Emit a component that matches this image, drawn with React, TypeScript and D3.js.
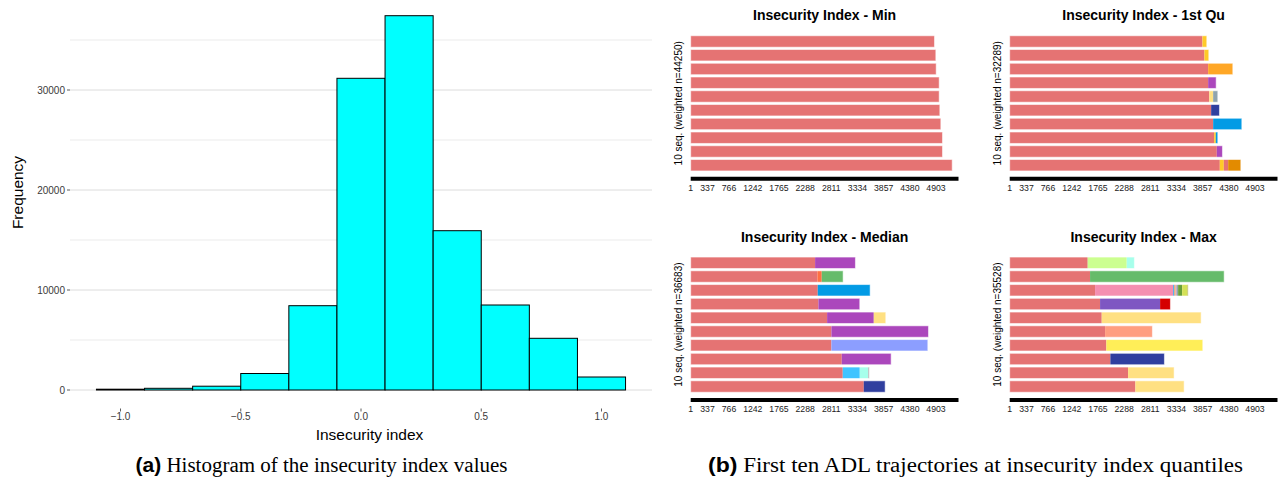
import React from 'react';
import * as d3 from 'd3';

// ---- Histogram data ----
const binStarts = [-1.1, -0.9, -0.7, -0.5, -0.3, -0.1, 0.1, 0.3, 0.5, 0.7, 0.9];
const binWidth = 0.2;
const binCounts = [80, 170, 380, 1650, 8430, 31170, 37430, 15930, 8500, 5170, 1300];
const histXTicks = [-1, -0.5, 0, 0.5, 1];
const histYTicks = [0, 10000, 20000, 30000];
const histYMinor = [5000, 15000, 25000, 35000];

// ---- Sequence index plots ----
const seqTicks = [1, 337, 766, 1242, 1765, 2288, 2811, 3334, 3857, 4380, 4903];
const seqDomain = [1, 5353];

const stateColors: Record<string, string> = {
  A: '#E57373',
  B: '#FFCA28',
  C: '#FFA726',
  D: '#AB47BC',
  E: '#FFE082',
  F: '#90A4AE',
  G: '#303F9F',
  H: '#039BE5',
  I: '#E38B00',
  J: '#FF7043',
  K: '#66BB6A',
  L: '#8C9EFF',
  M: '#40C4FF',
  N: '#A7FFEB',
  O: '#BDBDBD',
  P: '#CCFF90',
  Q: '#F48FB1',
  R: '#7E57C2',
  S: '#D50000',
  T: '#FF9E80',
  U: '#FFEE58',
  V: '#689F38',
  W: '#D4E157',
  X: '#42A5F5',
  Y: '#9E9D24',
};

type Seg = [string, number];

// each sequence: consecutive spells as [state, end position]
const seqMin: Seg[][] = [
  [['A', 4873]],
  [['A', 4900]],
  [['A', 4907]],
  [['A', 4967]],
  [['A', 4967]],
  [['A', 4980]],
  [['A', 5000]],
  [['A', 5033]],
  [['A', 5033]],
  [['A', 5227]],
];

const seqQ1: Seg[][] = [
  [['A', 3853], ['B', 3940]],
  [['A', 3893], ['B', 3980]],
  [['A', 3967], ['C', 4460]],
  [['A', 3967], ['D', 4127]],
  [['A', 3990], ['E', 4067], ['F', 4160]],
  [['A', 4027], ['G', 4193]],
  [['A', 4067], ['H', 4640]],
  [['A', 4087], ['B', 4120], ['H', 4160]],
  [['A', 4140], ['D', 4253]],
  [['A', 4200], ['B', 4280], ['A', 4367], ['I', 4620]],
];

const seqMedian: Seg[][] = [
  [['A', 2487], ['D', 3293]],
  [['A', 2533], ['J', 2620], ['K', 3047]],
  [['A', 2540], ['H', 3587]],
  [['A', 2553], ['D', 3380]],
  [['A', 2727], ['D', 3660], ['E', 3900]],
  [['A', 2813], ['D', 4753]],
  [['A', 2813], ['L', 4740]],
  [['A', 3020], ['D', 4007]],
  [['A', 3040], ['M', 3380], ['N', 3547], ['O', 3573]],
  [['A', 3460], ['G', 3887]],
];

const seqMax: Seg[][] = [
  [['A', 1560], ['P', 2340], ['N', 2493]],
  [['A', 1607], ['K', 4287]],
  [['A', 1707], ['Q', 3267], ['X', 3294], ['C', 3314], ['Q', 3334], ['F', 3367], ['V', 3447], ['W', 3554], ['Y', 3567]],
  [['A', 1807], ['R', 3007], ['S', 3213]],
  [['A', 1840], ['E', 3827]],
  [['A', 1907], ['T', 2853]],
  [['A', 1933], ['U', 3860]],
  [['A', 2013], ['G', 3093]],
  [['A', 2367], ['E', 3287]],
  [['A', 2513], ['E', 3487]],
];

const panelTitles = [
  'Insecurity Index - Min',
  'Insecurity Index - 1st Qu',
  'Insecurity Index - Median',
  'Insecurity Index - Max',
];
const panelWeights = [44250, 32289, 36683, 35528];
const panelSeqs = [seqMin, seqQ1, seqMedian, seqMax];

const SANS = '"Liberation Sans", Arial, Helvetica, sans-serif';
const SERIF = '"Liberation Serif", "Times New Roman", serif';

function Histogram() {
  const x = d3.scaleLinear().domain([-1.21, 1.21]).range([70, 652]);
  const y = d3.scaleLinear().domain([0, 40000]).range([390, -10]);
  const fmt = (v: number) => d3.format('.1f')(v).replace('-', '\u2212');
  return (
    <g>
      {histYMinor.map((v) => (
        <line key={'mn' + v} x1={70} x2={652} y1={y(v)} y2={y(v)} stroke="#e6e6e6" strokeWidth={0.8} />
      ))}
      {histYTicks.map((v) => (
        <line key={'mj' + v} x1={70} x2={652} y1={y(v)} y2={y(v)} stroke="#dcdcdc" strokeWidth={1} />
      ))}
      {binStarts.map((b, i) => (
        <rect
          key={i}
          x={x(b)}
          y={y(binCounts[i])}
          width={x(b + binWidth) - x(b)}
          height={y(0) - y(binCounts[i])}
          fill="#00FFFF"
          stroke="#000"
          strokeWidth={1}
        />
      ))}
      {histYTicks.map((v) => (
        <g key={'yt' + v}>
          <line x1={67} x2={70} y1={y(v)} y2={y(v)} stroke="#333" strokeWidth={0.8} />
          <text x={65} y={y(v)} dy="0.35em" textAnchor="end" fontSize={10} fill="#3a3a3a" fontFamily={SANS}>
            {v}
          </text>
        </g>
      ))}
      {histXTicks.map((v) => (
        <g key={'xt' + v}>
          <line x1={x(v)} x2={x(v)} y1={408.5} y2={411.5} stroke="#333" strokeWidth={0.8} />
          <text x={x(v)} y={420} textAnchor="middle" fontSize={10} fill="#3a3a3a" fontFamily={SANS}>
            {fmt(v)}
          </text>
        </g>
      ))}
      <text x={369.5} y={440} textAnchor="middle" fontSize={15.5} fill="#000" fontFamily={SANS}>
        Insecurity index
      </text>
      <text
        transform="translate(17.5,192.5) rotate(-90)"
        dy="0.35em"
        textAnchor="middle"
        fontSize={15.5}
        fill="#000"
        fontFamily={SANS}
      >
        Frequency
      </text>
    </g>
  );
}

function SeqPanel({ x0, y0, title, weight, seqs }: { x0: number; y0: number; title: string; weight: number; seqs: Seg[][] }) {
  const w = 267.8;
  const x = d3.scaleLinear().domain(seqDomain).range([x0, x0 + w]);
  const band = d3
    .scaleBand<number>()
    .domain(d3.range(seqs.length))
    .range([y0 + 34.6, y0 + 172.1])
    .paddingInner(0.17)
    .paddingOuter(0.085);
  const bh = band.bandwidth();
  return (
    <g>
      <text x={x0 + w / 2} y={y0 + 20.3} textAnchor="middle" fontSize={14} fontWeight="bold" fontFamily={SANS} fill="#000">
        {title}
      </text>
      <text
        transform={`translate(${x0 - 12},${y0 + 103.3}) rotate(-90)`}
        dy="0.35em"
        textAnchor="middle"
        fontSize={10}
        fontFamily={SANS}
        fill="#000"
      >
        {`10 seq. (weighted n=${weight})`}
      </text>
      {seqs.map((row, i) => {
        let start = seqDomain[0];
        const yy = band(i) as number;
        const end = row[row.length - 1][1];
        return (
          <g key={i}>
            {row.map(([st, e], j) => {
              const r = (
                <rect key={j} x={x(start)} y={yy} width={x(e) - x(start)} height={bh} fill={stateColors[st]} />
              );
              start = e;
              return r;
            })}
            <rect
              x={x(seqDomain[0])}
              y={yy}
              width={x(end) - x(seqDomain[0])}
              height={bh}
              fill="none"
              stroke="#fff"
              strokeOpacity={0.55}
              strokeWidth={1}
            />
          </g>
        );
      })}
      <line x1={x(seqDomain[0])} x2={x(seqDomain[1])} y1={y0 + 178.7} y2={y0 + 178.7} stroke="#000" strokeWidth={4} />
      {seqTicks.map((t) => (
        <text key={t} x={x(t)} y={y0 + 190.5} textAnchor="middle" fontSize={8.7} fontFamily={SANS} fill="#222">
          {t}
        </text>
      ))}
    </g>
  );
}

export default function App() {
  const origins = [
    [690.7, 0],
    [1009.7, 0],
    [690.7, 221.3],
    [1009.7, 221.3],
  ];
  return (
    <div style={{ position: 'absolute', left: 0, top: 0 }}>
      <svg width={1283} height={481} style={{ display: 'block', background: '#fff' }}>
        <rect width={1283} height={481} fill="#fff" />
        <Histogram />
        {origins.map(([ox, oy], i) => (
          <SeqPanel key={i} x0={ox} y0={oy} title={panelTitles[i]} weight={panelWeights[i]} seqs={panelSeqs[i]} />
        ))}
        <text x={321.5} y={472} textAnchor="middle" fontSize={20} fill="#000" textLength={372} lengthAdjust="spacingAndGlyphs">
          <tspan fontFamily={SANS} fontWeight="bold">(a)</tspan>
          <tspan fontFamily={SERIF}> Histogram of the insecurity index values</tspan>
        </text>
        <text x={975.5} y={472} textAnchor="middle" fontSize={20} fill="#000" textLength={535} lengthAdjust="spacingAndGlyphs">
          <tspan fontFamily={SANS} fontWeight="bold">(b)</tspan>
          <tspan fontFamily={SERIF}> First ten ADL trajectories at insecurity index quantiles</tspan>
        </text>
      </svg>
    </div>
  );
}
